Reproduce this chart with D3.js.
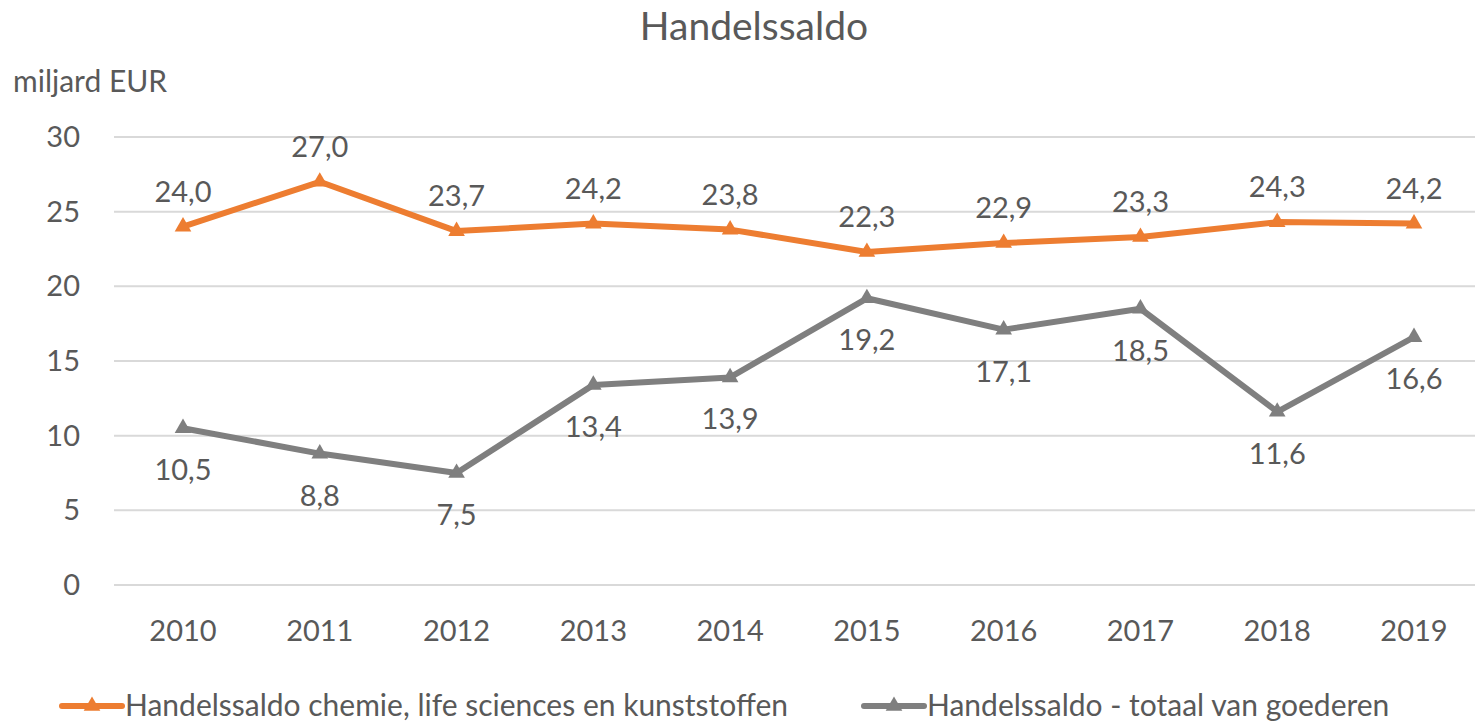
<!DOCTYPE html>
<html lang="nl">
<head>
    <meta charset="UTF-8">
    <title>Handelssaldo</title>
    <script src="https://d3js.org/d3.v7.min.js"></script>
    <style>
        body { margin: 0; background: #fff; }
        text { font-family: Lato, "Open Sans", sans-serif; fill: #595959; }
    </style>
</head>
<body>
    <svg width="1475" height="724"></svg>
    <script>
        // Data
        const years = ["2010", "2011", "2012", "2013", "2014", "2015", "2016", "2017", "2018", "2019"];
        const chemie = [24.0, 27.0, 23.7, 24.2, 23.8, 22.3, 22.9, 23.3, 24.3, 24.2];
        const totaal = [10.5, 8.8, 7.5, 13.4, 13.9, 19.2, 17.1, 18.5, 11.6, 16.6];
        const yTicks = [0, 5, 10, 15, 20, 25, 30];
        const seriesNames = ["Handelssaldo chemie, life sciences en kunststoffen", "Handelssaldo - totaal van goederen"];
        const colors = ["#ED7D31", "#7F7F7F"];

        const width = 1475, height = 724;
        const margin = {top: 137, right: -7, bottom: 139, left: 114};

        const svg = d3.select("svg");

        const x = d3.scalePoint()
            .domain(years)
            .range([183, 1414]);

        const y = d3.scaleLinear()
            .domain([0, 30])
            .range([height - margin.bottom, margin.top]);

        // Gridlines
        svg.append("g")
            .selectAll("line")
            .data(yTicks)
            .enter()
            .append("line")
            .attr("x1", margin.left)
            .attr("x2", width - margin.right)
            .attr("y1", d => y(d))
            .attr("y2", d => y(d))
            .attr("stroke", "#d9d9d9")
            .attr("stroke-width", 2);

        // Y axis labels
        svg.append("g")
            .selectAll("text")
            .data(yTicks)
            .enter()
            .append("text")
            .attr("x", 80)
            .attr("y", d => y(d))
            .attr("dy", "0.35em")
            .attr("text-anchor", "end")
            .style("font-size", "29px")
            .text(d => d);

        // X axis labels
        svg.append("g")
            .selectAll("text")
            .data(years)
            .enter()
            .append("text")
            .attr("x", d => x(d))
            .attr("y", 641)
            .attr("text-anchor", "middle")
            .style("font-size", "29px")
            .text(d => d);

        const fmt = v => v.toFixed(1).replace(".", ",");
        const tri = d3.symbol().type(d3.symbolTriangle).size(120);

        const line = d3.line()
            .x((d, i) => x(years[i]))
            .y(d => y(d));

        [chemie, totaal].forEach((values, s) => {
            svg.append("path")
                .datum(values)
                .attr("fill", "none")
                .attr("stroke", colors[s])
                .attr("stroke-width", 6)
                .attr("stroke-linejoin", "round")
                .attr("d", line);

            svg.append("g")
                .selectAll("path")
                .data(values)
                .enter()
                .append("path")
                .attr("d", tri)
                .attr("transform", (d, i) => `translate(${x(years[i])},${y(d)})`)
                .attr("fill", colors[s]);

            // Data labels: above for chemie, below for totaal
            svg.append("g")
                .selectAll("text")
                .data(values)
                .enter()
                .append("text")
                .attr("x", (d, i) => x(years[i]))
                .attr("y", d => s === 0 ? y(d) - 25 : y(d) + 52)
                .attr("text-anchor", "middle")
                .style("font-size", "29px")
                .text(d => fmt(d));
        });

        // Title
        svg.append("text")
            .attr("x", 754)
            .attr("y", 40)
            .attr("text-anchor", "middle")
            .style("font-size", "39px")
            .text("Handelssaldo");

        // Unit label
        svg.append("text")
            .attr("x", 13)
            .attr("y", 92)
            .style("font-size", "30px")
            .text("miljard EUR");

        // Legend
        const legendX = [62, 864];
        seriesNames.forEach((name, s) => {
            const g = svg.append("g").attr("transform", `translate(${legendX[s]},706)`);
            g.append("line")
                .attr("x1", 0).attr("x2", 60)
                .attr("stroke", colors[s])
                .attr("stroke-width", 6)
                .attr("stroke-linecap", "round");
            g.append("path")
                .attr("d", tri)
                .attr("transform", "translate(30,0)")
                .attr("fill", colors[s]);
            g.append("text")
                .attr("x", 63)
                .attr("dy", "0.32em")
                .style("font-size", "30px")
                .text(name);
        });
    </script>
</body>
</html>
